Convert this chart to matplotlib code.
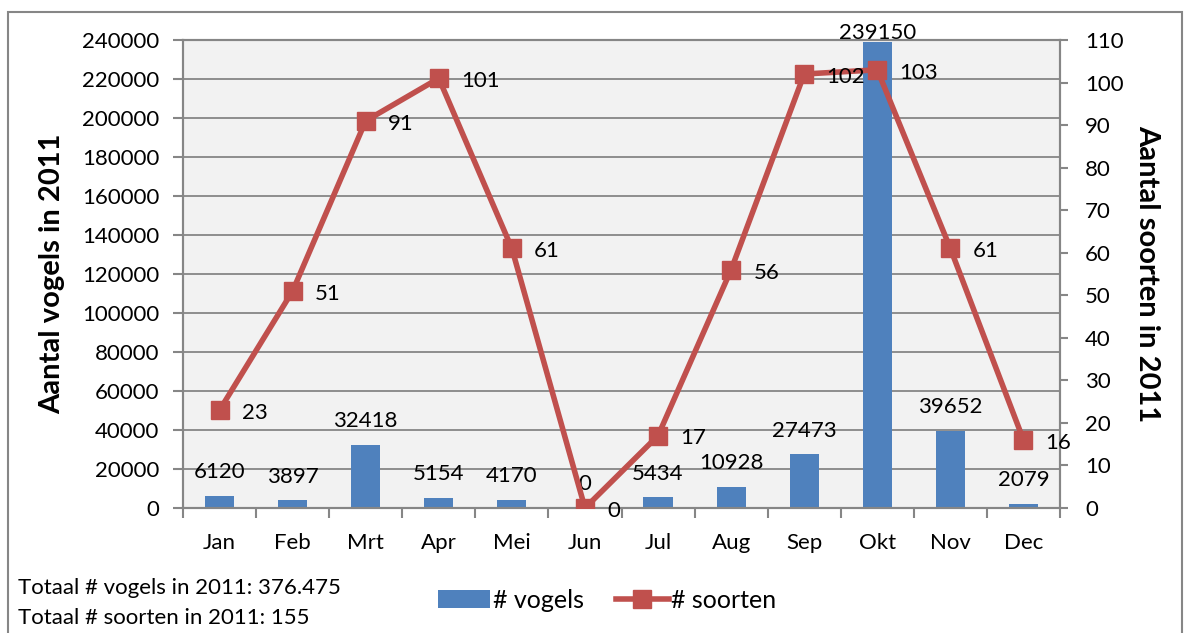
import matplotlib.pyplot as plt
from matplotlib.patches import Rectangle
from matplotlib.lines import Line2D
from matplotlib.patches import Patch

plt.rcParams['font.family'] = ['Lato', 'DejaVu Sans']

# Data
months = ['Jan', 'Feb', 'Mrt', 'Apr', 'Mei', 'Jun', 'Jul', 'Aug', 'Sep', 'Okt', 'Nov', 'Dec']
vogels = [6120, 3897, 32418, 5154, 4170, 0, 5434, 10928, 27473, 239150, 39652, 2079]
soorten = [23, 51, 91, 101, 61, 0, 17, 56, 102, 103, 61, 16]

blue = '#4F81BD'
red = '#C0504D'
grey = '#868686'
fs = 16

fig = plt.figure(figsize=(11.88, 6.33), dpi=100)
ax = fig.add_axes([183 / 1188, 1 - 508 / 633, (1060 - 183) / 1188, (508 - 40) / 633])
ax.set_facecolor('#F2F2F2')

x = list(range(len(months)))
ax.bar(x, vogels, width=0.4, color=blue, zorder=2)
for xi, v in zip(x, vogels):
    # Excel keeps the label inside the chart area when the bar is near the top
    off = 10 if v < 225000 else -1
    ax.annotate(str(v), (xi, v), xytext=(0, off), textcoords='offset points',
                ha='center', va='bottom', fontsize=fs, annotation_clip=False, zorder=5)

ax.set_ylim(0, 240000)
ax.set_yticks(range(0, 240001, 20000))
ax.set_xlim(-0.5, 11.5)
ax.set_xticks(x)
ax.set_xticklabels(months, fontsize=fs)
ax.set_xticks([i - 0.5 for i in range(13)], minor=True)
ax.tick_params(axis='x', which='major', length=0, pad=18)
ax.tick_params(axis='x', which='minor', length=7, width=1.5, color=grey)
ax.tick_params(axis='y', length=7, width=1.5, color=grey, pad=10, labelsize=fs)
ax.yaxis.grid(True, color=grey, linewidth=1.3, zorder=0)
ax.set_axisbelow(True)
for s in ax.spines.values():
    s.set_color(grey)
    s.set_linewidth(1.5)
ax.set_ylabel('Aantal vogels in 2011', fontsize=21, fontweight='bold', labelpad=12)

ax2 = ax.twinx()
ax2.plot(x, soorten, color=red, linewidth=4, marker='s', markersize=13, zorder=3)
for xi, v in zip(x, soorten):
    ax2.annotate(str(v), (xi, v), xytext=(16, -2), textcoords='offset points',
                 ha='left', va='center', fontsize=fs, annotation_clip=False, zorder=6)
ax2.set_ylim(0, 110)
ax2.set_yticks(range(0, 111, 10))
ax2.tick_params(axis='y', length=6, width=1.5, color=grey, pad=12, labelsize=fs)
for s in ax2.spines.values():
    s.set_color(grey)
    s.set_linewidth(1.5)
ax2.set_ylabel('Aantal soorten in 2011', fontsize=21, fontweight='bold',
               rotation=-90, labelpad=26)

# legend
handles = [Patch(facecolor=blue),
           Line2D([0], [0], color=red, linewidth=4, marker='s', markersize=13)]
fig.legend(handles, ['# vogels', '# soorten'], loc='center', ncol=2,
           bbox_to_anchor=(607 / 1188, 1 - 600 / 633), frameon=False, fontsize=18,
           handlelength=2.1, handletextpad=0.1, columnspacing=1.3)

fig.text(18 / 1188, 1 - 588 / 633, 'Totaal # vogels in 2011: 376.475', fontsize=16, va='center')
fig.text(18 / 1188, 1 - 618 / 633, 'Totaal # soorten in 2011: 155', fontsize=16, va='center')

# outer chart border
fig.patches.append(Rectangle((8 / 1188, -0.05), 1 - 14 / 1188, 1.05 - 12 / 633,
                             transform=fig.transFigure, fill=False, edgecolor=grey,
                             linewidth=1.5))

fig.savefig('out.png', dpi=100)
